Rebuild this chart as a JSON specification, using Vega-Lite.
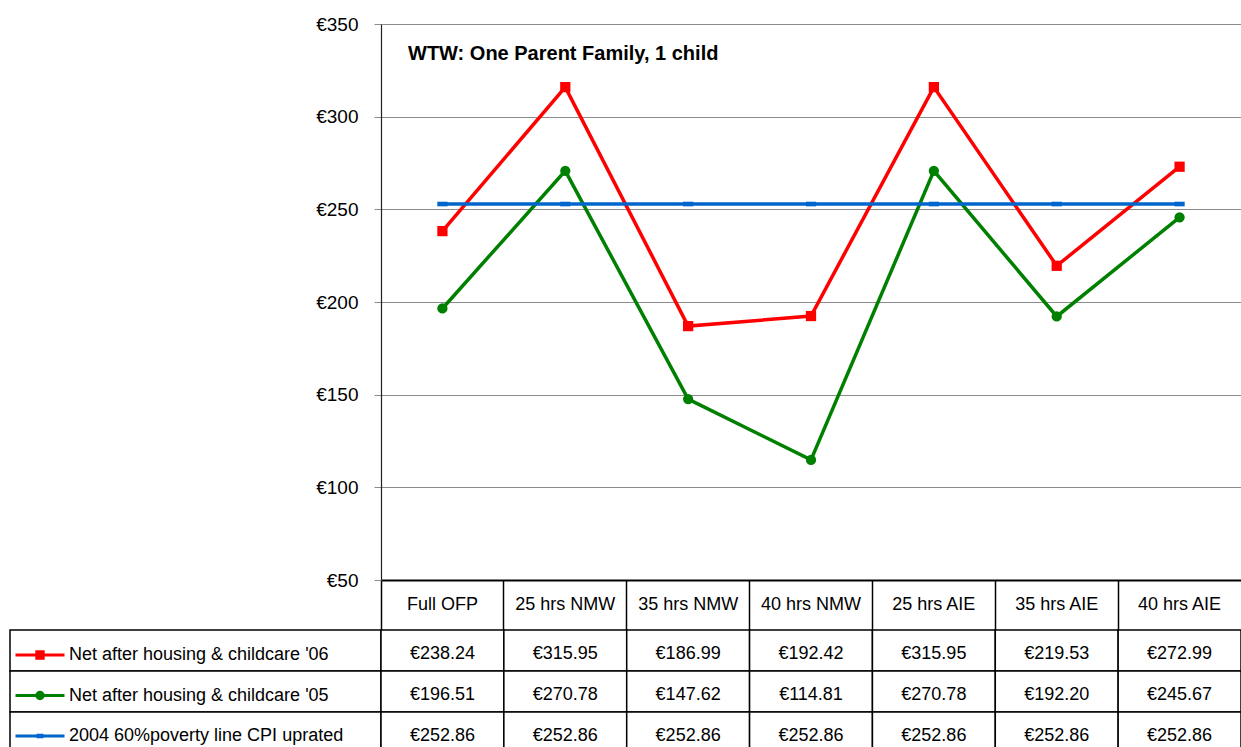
{
  "$schema": "https://vega.github.io/schema/vega-lite/v6.json",
  "padding": {"left": 9, "top": 15, "right": 0, "bottom": 0},
  "background": "white",
  "config": {
    "view": {"stroke": null},
    "font": "Liberation Sans",
    "locale": {"number": {"decimal": ".", "thousands": ",", "grouping": [3], "currency": ["€", ""]}}
  },
  "datasets": {
    "chart": [
      {"series": "Net after housing & childcare '06", "cat": "Full OFP", "value": 238.24},
      {"series": "Net after housing & childcare '06", "cat": "25 hrs NMW", "value": 315.95},
      {"series": "Net after housing & childcare '06", "cat": "35 hrs NMW", "value": 186.99},
      {"series": "Net after housing & childcare '06", "cat": "40 hrs NMW", "value": 192.42},
      {"series": "Net after housing & childcare '06", "cat": "25 hrs AIE", "value": 315.95},
      {"series": "Net after housing & childcare '06", "cat": "35 hrs AIE", "value": 219.53},
      {"series": "Net after housing & childcare '06", "cat": "40 hrs AIE", "value": 272.99},
      {"series": "Net after housing & childcare '05", "cat": "Full OFP", "value": 196.51},
      {"series": "Net after housing & childcare '05", "cat": "25 hrs NMW", "value": 270.78},
      {"series": "Net after housing & childcare '05", "cat": "35 hrs NMW", "value": 147.62},
      {"series": "Net after housing & childcare '05", "cat": "40 hrs NMW", "value": 114.81},
      {"series": "Net after housing & childcare '05", "cat": "25 hrs AIE", "value": 270.78},
      {"series": "Net after housing & childcare '05", "cat": "35 hrs AIE", "value": 192.20},
      {"series": "Net after housing & childcare '05", "cat": "40 hrs AIE", "value": 245.67},
      {"series": "2004 60%poverty line CPI uprated", "cat": "Full OFP", "value": 252.86},
      {"series": "2004 60%poverty line CPI uprated", "cat": "25 hrs NMW", "value": 252.86},
      {"series": "2004 60%poverty line CPI uprated", "cat": "35 hrs NMW", "value": 252.86},
      {"series": "2004 60%poverty line CPI uprated", "cat": "40 hrs NMW", "value": 252.86},
      {"series": "2004 60%poverty line CPI uprated", "cat": "25 hrs AIE", "value": 252.86},
      {"series": "2004 60%poverty line CPI uprated", "cat": "35 hrs AIE", "value": 252.86},
      {"series": "2004 60%poverty line CPI uprated", "cat": "40 hrs AIE", "value": 252.86}
    ],
    "series": [
      {"series": "Net after housing & childcare '06"},
      {"series": "Net after housing & childcare '05"},
      {"series": "2004 60%poverty line CPI uprated"}
    ],
    "title": [
      {"label": "WTW: One Parent Family, 1 child", "cat": "Full OFP", "value": 334}
    ]
  },
  "columns": 2,
  "spacing": 0,
  "bounds": "flush",
  "resolve": {"scale": {"color": "independent", "shape": "independent", "fill": "independent", "stroke": "independent"}},
  "concat": [
    {
      "width": 371,
      "height": 556,
      "data": {"values": [{}]},
      "mark": {"type": "point", "opacity": 0}
    },
    {
      "width": 860,
      "height": 556,
      "encoding": {
        "x": {
          "field": "cat", "type": "nominal",
          "sort": ["Full OFP", "25 hrs NMW", "35 hrs NMW", "40 hrs NMW", "25 hrs AIE", "35 hrs AIE", "40 hrs AIE"],
          "scale": {"type": "band", "paddingInner": 0, "paddingOuter": 0},
          "axis": {"title": null, "bandPosition": 0, "tickSize": 50, "tickColor": "black", "tickWidth": 1.5, "domainColor": "black", "domainWidth": 2, "labelFontSize": 18, "labelColor": "black", "labelFont": "Liberation Sans", "labelBaseline": "middle", "labelPadding": -26, "labelAngle": 0, "grid": false}
        },
        "y": {
          "field": "value", "type": "quantitative",
          "scale": {"domain": [50, 350], "nice": false, "zero": false},
          "axis": {"title": null, "values": [50, 100, 150, 200, 250, 300, 350], "format": "$.0f", "grid": true, "gridColor": "#8c8c8c", "gridWidth": 1, "domainColor": "#222222", "domainWidth": 1.2, "tickColor": "#8c8c8c", "tickSize": 7, "labelFontSize": 19, "labelColor": "black", "labelFont": "Liberation Sans", "labelPadding": 16}
        }
      },
      "layer": [
        {
          "data": {"name": "chart"},
          "mark": {"type": "line", "strokeWidth": 3.5},
          "encoding": {
            "color": {
              "field": "series", "type": "nominal",
              "scale": {"domain": ["Net after housing & childcare '06", "Net after housing & childcare '05", "2004 60%poverty line CPI uprated"], "range": ["#ff0000", "#008000", "#0066cc"]},
              "legend": null
            }
          }
        },
        {
          "data": {"name": "chart"},
          "mark": {"type": "point", "filled": true, "opacity": 1, "size": 105},
          "encoding": {
            "color": {
              "field": "series", "type": "nominal",
              "scale": {"domain": ["Net after housing & childcare '06", "Net after housing & childcare '05", "2004 60%poverty line CPI uprated"], "range": ["#ff0000", "#008000", "#0066cc"]},
              "legend": null
            },
            "shape": {
              "field": "series", "type": "nominal",
              "scale": {"domain": ["Net after housing & childcare '06", "Net after housing & childcare '05", "2004 60%poverty line CPI uprated"], "range": ["square", "circle", "M-1,-0.45H1V0.45H-1Z"]},
              "legend": null
            }
          }
        },
        {
          "data": {"name": "title"},
          "mark": {"type": "text", "align": "left", "baseline": "middle", "fontSize": 20, "fontWeight": "bold", "font": "Liberation Sans", "color": "black", "dx": 27},
          "encoding": {
            "x": {"field": "cat", "type": "nominal", "bandPosition": 0},
            "text": {"field": "label"}
          }
        }
      ]
    },
    {
      "width": 371,
      "height": 50,
      "data": {"values": [{}]},
      "mark": {"type": "point", "opacity": 0}
    },
    {
      "width": 860,
      "height": 50,
      "data": {"values": [{}]},
      "mark": {"type": "point", "opacity": 0}
    },
    {
      "width": 371,
      "height": 123,
      "data": {"name": "series"},
      "encoding": {
        "y": {
          "field": "series", "type": "nominal",
          "sort": ["Net after housing & childcare '06", "Net after housing & childcare '05", "2004 60%poverty line CPI uprated"],
          "scale": {"type": "band", "paddingInner": 0, "paddingOuter": 0},
          "axis": null
        }
      },
      "layer": [
        {"mark": {"type": "rect", "fill": "white", "stroke": "black", "strokeWidth": 1.5}},
        {
          "mark": {"type": "point", "opacity": 0, "filled": true},
          "encoding": {
            "shape": {
              "field": "series", "type": "nominal",
              "scale": {"domain": ["Net after housing & childcare '06", "Net after housing & childcare '05", "2004 60%poverty line CPI uprated"], "range": ["M-1,0H1M-0.13,-0.13H0.13V0.13H-0.13Z", "M-1,0H1M-0.13,0A0.13,0.13 0 1,0 0.13,0A0.13,0.13 0 1,0 -0.13,0Z", "M-1,0H1M-0.08,-0.03H0.08V0.03H-0.08Z"]},
              "legend": {"orient": "none", "legendX": 4, "legendY": -1, "title": null, "labelFontSize": 18, "labelColor": "black", "labelFont": "Liberation Sans", "labelLimit": 400, "symbolSize": 2401, "symbolStrokeWidth": 3, "symbolOpacity": 1, "rowPadding": 4.5, "labelOffset": 3, "padding": 0}
            },
            "fill": {
              "field": "series", "type": "nominal",
              "scale": {"domain": ["Net after housing & childcare '06", "Net after housing & childcare '05", "2004 60%poverty line CPI uprated"], "range": ["#ff0000", "#008000", "#0066cc"]},
              "legend": {"orient": "none", "legendX": 4, "legendY": -1, "title": null, "labelFontSize": 18, "labelColor": "black", "labelFont": "Liberation Sans", "labelLimit": 400, "symbolSize": 2401, "symbolStrokeWidth": 3, "symbolOpacity": 1, "rowPadding": 4.5, "labelOffset": 3, "padding": 0}
            },
            "stroke": {
              "field": "series", "type": "nominal",
              "scale": {"domain": ["Net after housing & childcare '06", "Net after housing & childcare '05", "2004 60%poverty line CPI uprated"], "range": ["#ff0000", "#008000", "#0066cc"]},
              "legend": {"orient": "none", "legendX": 4, "legendY": -1, "title": null, "labelFontSize": 18, "labelColor": "black", "labelFont": "Liberation Sans", "labelLimit": 400, "symbolSize": 2401, "symbolStrokeWidth": 3, "symbolOpacity": 1, "rowPadding": 4.5, "labelOffset": 3, "padding": 0}
            }
          }
        }
      ]
    },
    {
      "width": 860,
      "height": 123,
      "data": {"name": "chart"},
      "encoding": {
        "x": {
          "field": "cat", "type": "nominal",
          "sort": ["Full OFP", "25 hrs NMW", "35 hrs NMW", "40 hrs NMW", "25 hrs AIE", "35 hrs AIE", "40 hrs AIE"],
          "scale": {"type": "band", "paddingInner": 0, "paddingOuter": 0},
          "axis": null
        },
        "y": {
          "field": "series", "type": "nominal",
          "sort": ["Net after housing & childcare '06", "Net after housing & childcare '05", "2004 60%poverty line CPI uprated"],
          "scale": {"type": "band", "paddingInner": 0, "paddingOuter": 0},
          "axis": null
        }
      },
      "layer": [
        {"mark": {"type": "rect", "fill": "white", "stroke": "black", "strokeWidth": 1.5}},
        {
          "mark": {"type": "text", "fontSize": 18, "color": "black", "font": "Liberation Sans", "dy": 3},
          "encoding": {"text": {"field": "value", "type": "quantitative", "format": "$.2f"}}
        }
      ]
    }
  ]
}
